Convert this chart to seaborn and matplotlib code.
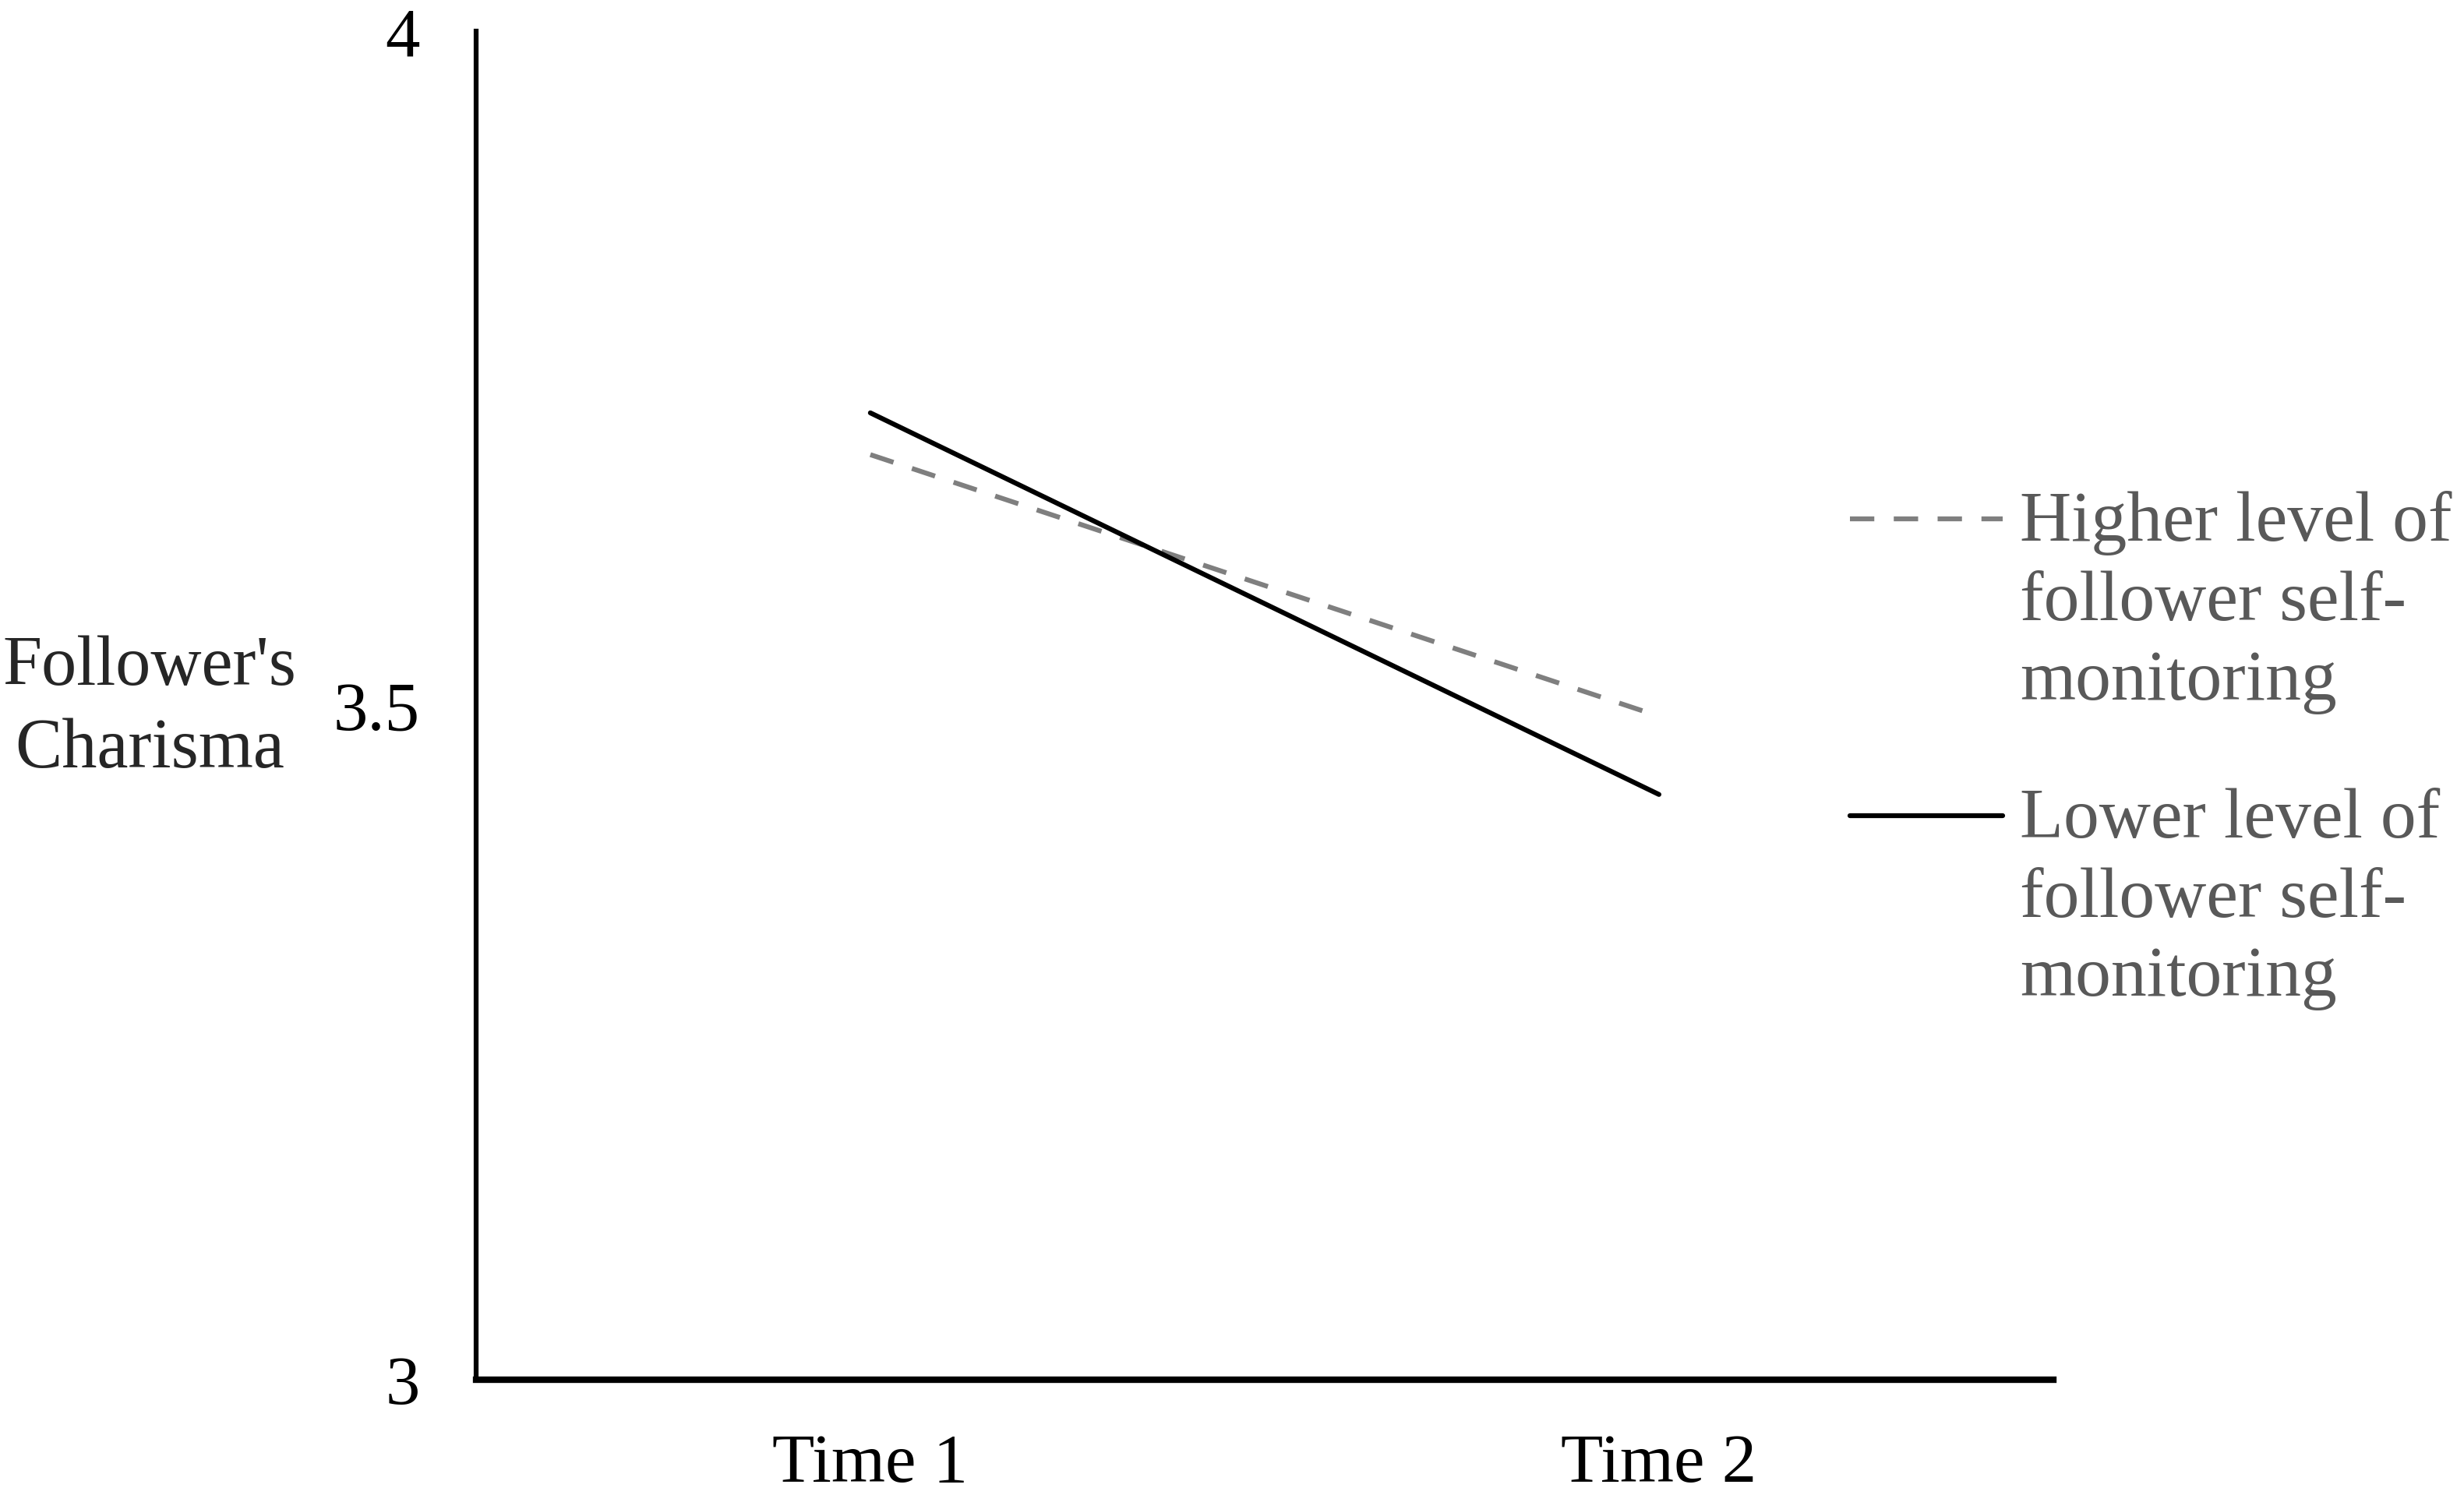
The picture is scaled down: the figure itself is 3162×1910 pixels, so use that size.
import pandas as pd
import matplotlib.pyplot as plt
import seaborn as sns

times = ['Time 1', 'Time 2']
groups = ['Higher level of\nfollower self-\nmonitoring', 'Lower level of\nfollower self-\nmonitoring']
higher_sm = [3.686, 3.492]
lower_sm = [3.717, 3.434]
y_ticks = [3, 3.5, 4]
y_tick_labels = ['3', '3.5', '4']

df = pd.DataFrame({
    'time': times * 2,
    'charisma': higher_sm + lower_sm,
    'group': [groups[0]] * 2 + [groups[1]] * 2,
})

sns.set_style('white')
plt.rcParams['font.family'] = ['Liberation Serif', 'DejaVu Serif']

fig = plt.figure(figsize=(31.62, 19.10), dpi=100)
ax = fig.add_axes([0.1932, 0.0728, 0.8333 - 0.1932, 0.979 - 0.0728])

colors = {groups[0]: '#7f7f7f', groups[1]: '#000000'}
dashes = {groups[0]: (5, 4), groups[1]: ''}
sns.lineplot(data=df, x='time', y='charisma', hue='group', style='group',
             palette=colors, dashes=dashes, linewidth=4.5, legend=False, ax=ax)

ax.set_xlim(-0.5, 1.5)
ax.set_ylim(3, 4)
ax.set_yticks(y_ticks)
ax.set_yticklabels(y_tick_labels)
ax.tick_params(axis='both', length=0, labelsize=64, colors='black')
ax.tick_params(axis='y', pad=52)
ax.tick_params(axis='x', pad=50)
ax.set_xlabel('')
ax.set_ylabel('')
for s in ['top', 'right']:
    ax.spines[s].set_visible(False)
ax.spines['left'].set_linewidth(4.5)
ax.spines['bottom'].set_linewidth(6)
ax.spines['left'].set_color('black')
ax.spines['bottom'].set_color('black')

fig.text(0.0607, 0.5236, "Follower's\nCharisma", fontsize=65, ha='center', va='center',
         linespacing=1.36)

# legend drawn by hand so the key line sits at the first text line
leg_y = [0.6513, 0.4518]
for g, yy in zip(groups, leg_y):
    ax.plot([0.7508, 0.8128], [yy, yy], transform=fig.transFigure, clip_on=False,
            color=colors[g], linewidth=4.5, dashes=dashes[g] if dashes[g] else (None, None))
    fig.text(0.8197, yy + 0.0186, g, fontsize=66, color='#595959', ha='left', va='top',
             linespacing=1.3)

fig.savefig('out.png', dpi=100)
